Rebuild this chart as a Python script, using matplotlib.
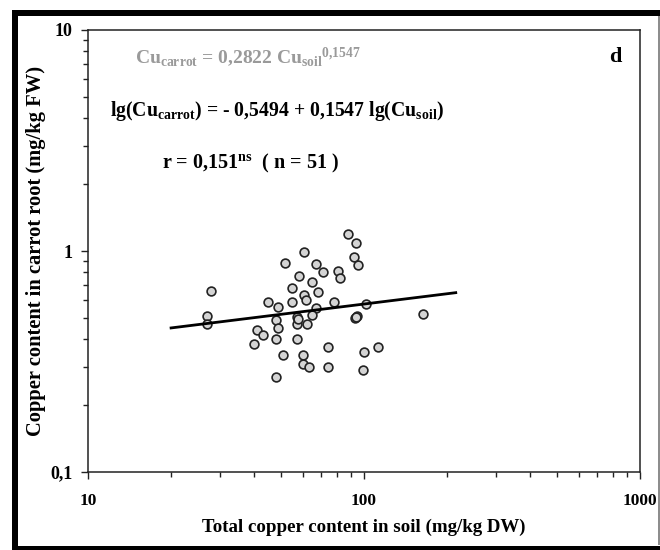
import numpy as np
import matplotlib
matplotlib.use("Agg")
import matplotlib.pyplot as plt
from matplotlib.lines import Line2D
from matplotlib.ticker import LogLocator, FixedLocator, FixedFormatter, NullFormatter

plt.rcParams['font.family'] = ['Liberation Serif', 'DejaVu Serif']
plt.rcParams['font.weight'] = 'bold'
plt.rcParams['mathtext.fontset'] = 'custom'
plt.rcParams['mathtext.rm'] = 'Liberation Serif:bold'
plt.rcParams['mathtext.bf'] = 'Liberation Serif:bold'
plt.rcParams['mathtext.it'] = 'Liberation Serif:bold'

# Data: total Cu in soil (mg/kg DW) vs Cu in carrot root (mg/kg FW)
cu_soil = [87.3, 93.3, 60.8, 51.8, 66.8, 92.0, 95.3, 71.0, 80.7, 81.8,
           58.1, 65.0, 27.9, 55.0, 67.9, 60.7, 61.7, 55.0, 44.8, 48.9,
           77.8, 102.0, 66.8, 64.6, 57.0, 27.0, 27.0, 48.0, 57.0, 61.9,
           92.7, 94.1, 163.0, 48.9, 40.8, 43.2, 47.9, 57.0, 40.0, 74.1,
           112.0, 100.2, 50.9, 60.0, 59.9, 63.2, 74.1, 98.9, 47.9, 93.5, 57.5]
cu_carrot = [1.19, 1.087, 0.987, 0.88, 0.87, 0.94, 0.867, 0.80, 0.812, 0.757,
             0.77, 0.722, 0.661, 0.680, 0.650, 0.632, 0.598, 0.590, 0.590, 0.560,
             0.590, 0.578, 0.554, 0.513, 0.504, 0.510, 0.469, 0.487, 0.466, 0.466,
             0.499, 0.510, 0.517, 0.450, 0.439, 0.418, 0.400, 0.400, 0.380, 0.369,
             0.369, 0.349, 0.340, 0.340, 0.309, 0.300, 0.300, 0.290, 0.270, 0.505, 0.49]

# Regression: lg(Cu_carrot) = a + b lg(Cu_soil)
reg_a = -0.5494
reg_b = 0.1547
reg_xrange = [20, 215]

x_ticks = [10, 100, 1000]
x_ticklabels = ['10', '100', '1000']
y_ticks = [0.1, 1, 10]
y_ticklabels = ['0,1', '1', '10']

fig = plt.figure(figsize=(6.6, 5.5), dpi=100)
W, H = 660, 550
ax = fig.add_axes([88 / W, 1 - 472 / H, (640 - 88) / W, (472 - 30) / H])

ax.set_xscale('log')
ax.set_yscale('log')
ax.set_xlim(10, 1000)
ax.set_ylim(0.1, 10)

ax.scatter(cu_soil, cu_carrot, s=40, facecolor='#d4d4d4', edgecolor='#222222',
           linewidths=1.2, zorder=3)

xr = np.array(reg_xrange, dtype=float)
lx = np.logspace(np.log10(xr[0]), np.log10(xr[1]), 50)
ly = 10 ** (reg_a + reg_b * np.log10(lx))
ax.plot(lx, ly, color='black', lw=2.0, zorder=4)

ax.xaxis.set_major_locator(FixedLocator(x_ticks))
ax.xaxis.set_major_formatter(FixedFormatter(x_ticklabels))
ax.yaxis.set_major_locator(FixedLocator(y_ticks))
ax.yaxis.set_major_formatter(FixedFormatter(y_ticklabels))
ax.xaxis.set_minor_locator(LogLocator(base=10, subs=np.arange(2, 10)))
ax.yaxis.set_minor_locator(LogLocator(base=10, subs=np.arange(2, 10)))
ax.xaxis.set_minor_formatter(NullFormatter())
ax.yaxis.set_minor_formatter(NullFormatter())

ax.tick_params(which='major', direction='out', length=5, width=1.0,
               color='#222222')
ax.tick_params(which='minor', direction='out', length=3.5, width=1.0, color='#222222')
ax.tick_params(axis='x', which='major', pad=10, labelsize=12.5)
ax.tick_params(axis='y', which='major', pad=6, labelsize=13)
for lab in ax.get_xticklabels() + ax.get_yticklabels():
    lab.set_fontweight('bold')

for sp in ax.spines.values():
    sp.set_linewidth(1.1)
    sp.set_color('#222222')

ax.set_xlabel('Total copper content in soil (mg/kg DW)', fontsize=13.6,
              fontweight='bold', labelpad=7)
ax.set_ylabel('Copper content in carrot root (mg/kg FW)', fontsize=14.8,
              fontweight='bold', labelpad=3)

ax.text(0.085, 0.939, r'Cu$_\mathrm{carrot}$ = 0,2822 Cu$_\mathrm{soil}$$^\mathrm{0{,}1547}$',
        transform=ax.transAxes, fontsize=14, color='#9a9a9a', ha='left', va='center',
        fontweight='bold')
ax.text(0.955, 0.939, 'd', transform=ax.transAxes, fontsize=16, ha='center',
        va='center', fontweight='bold')
ax.text(0.04, 0.817, r'lg(Cu$_\mathrm{carrot}$) = - 0,5494 + 0,1547 lg(Cu$_\mathrm{soil}$)',
        transform=ax.transAxes, fontsize=14.2, ha='left', va='center', fontweight='bold')
ax.text(0.134, 0.699, r'r = 0,151$^\mathrm{ns}$  ( n = 51 )',
        transform=ax.transAxes, fontsize=14.5, ha='left', va='center', fontweight='bold')

# outer frame
def px_line(x0, y0, x1, y1, lw, color):
    fig.add_artist(Line2D([x0 / W, x1 / W], [1 - y0 / H, 1 - y1 / H],
                          transform=fig.transFigure, lw=lw, color=color,
                          solid_capstyle='butt'))

px_line(15, 10, 15, 550, 6 * 0.72, 'black')
px_line(12, 13, 660, 13, 6 * 0.72, 'black')
px_line(12, 547.5, 660, 547.5, 5 * 0.72, 'black')
px_line(658.5, 16, 658.5, 545, 1.2, '#777777')

fig.savefig('out.png', dpi=100)
